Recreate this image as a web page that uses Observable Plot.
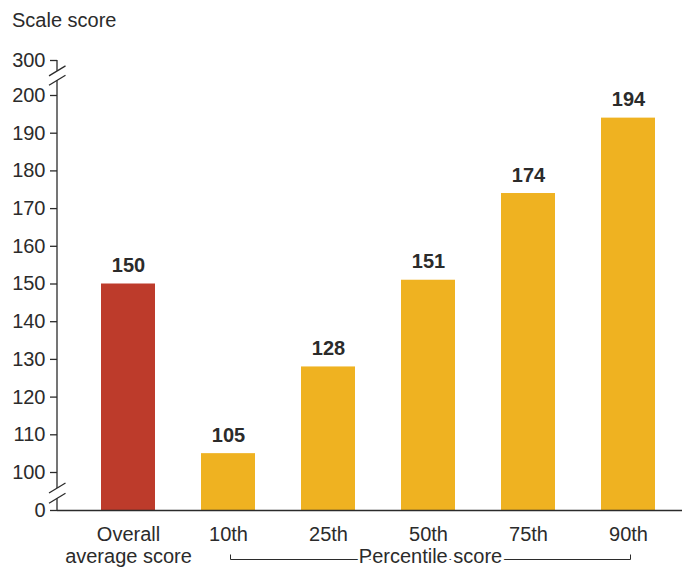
<!DOCTYPE html>
<html><head><meta charset="utf-8">
<script src="https://cdn.jsdelivr.net/npm/d3@7"></script>
<script src="https://cdn.jsdelivr.net/npm/@observablehq/plot@0.6"></script>
<style>
body{margin:0;background:#fff;}
#title{height:40px;box-sizing:border-box;padding:6px 0 0 12px;font:20px/28px "Liberation Sans",Arial,sans-serif;color:#2b2b2b;}
</style></head><body>
<div id="title">Scale score</div>
<div id="chart"></div>
<script>
const categories = ["Overall\naverage score", "10th", "25th", "50th", "75th", "90th"];
const values = [150, 105, 128, 151, 174, 194];
const groups = ["Overall", "Percentile", "Percentile", "Percentile", "Percentile", "Percentile"];
const yTicks = [0, 100, 110, 120, 130, 140, 150, 160, 170, 180, 190, 200, 300];
// broken axis: value stops and the share of the axis length given to each segment
const axisStops = [0, 100, 200, 300];
const axisSpans = [0, 38, 415, 450];
const yBreaks = [[0, 100], [300, 200]]; // [outer end, inner end]
const bracketLabel = "Percentile score";
const bracketFrom = "10th", bracketTo = "90th";

const data = categories.map((c, i) => ({category: c, value: values[i], group: groups[i]}));

const FONT = '"Liberation Sans",Arial,sans-serif';
const INK = "#2b2b2b";
const RED = "#bd3b2b", ORANGE = "#efb221";

const broken = d3.scaleLinear().domain(axisStops).range(axisSpans);

function decorations(index, scales, vals, dim) {
  const x = scales.x, y = scales.y;
  const Y = v => y(broken(v));
  const bw = x.bandwidth ? x.bandwidth() : 0;
  const ax = dim.marginLeft;
  const g = d3.create("svg:g");
  const lines = g.append("g").attr("stroke", INK).attr("stroke-width", 1.3).attr("fill", "none");
  const br = yBreaks.map(([o, i]) => {
    const yo = Y(o), yi = Y(i);
    return [yo + (yi - yo) * 0.31, yo + (yi - yo) * 0.58];
  });
  const ends = [Y(yBreaks[0][0]), br[0][0], br[0][1], br[1][1], br[1][0], Y(yBreaks[1][0])];
  for (let k = 0; k < ends.length; k += 2) {
    lines.append("line").attr("x1", ax).attr("x2", ax).attr("y1", ends[k]).attr("y2", ends[k + 1]);
  }
  for (const pair of br) for (const cy of pair) {
    lines.append("line").attr("x1", ax - 8).attr("y1", cy + 5).attr("x2", ax + 8.5).attr("y2", cy - 5);
  }
  const x1 = Math.round(x(bracketFrom) + bw / 2 + 2) + 0.5, x2 = Math.round(x(bracketTo) + bw / 2 + 2) + 0.5;
  const yb = Math.round(dim.height - dim.marginBottom + 49) + 0.5;
  lines.append("path").attr("d", `M${x1},${yb - 5}V${yb}H${x2}V${yb - 5}`).attr("stroke-width", 1);
  g.append("text").attr("x", (x1 + x2) / 2).attr("y", yb + 3).attr("text-anchor", "middle")
    .attr("font-family", FONT).attr("font-size", 20).attr("fill", INK)
    .attr("stroke", "white").attr("stroke-width", 5).attr("paint-order", "stroke")
    .text(bracketLabel);
  return g.node();
}

const chart = Plot.plot({
  width: 682,
  height: 529,
  marginLeft: 57,
  marginRight: 0,
  marginTop: 20,
  marginBottom: 59,
  style: {fontFamily: FONT, fontSize: "20px", color: INK, background: "white"},
  x: {domain: categories, range: [76.75, 679.75], paddingInner: 0.46, paddingOuter: 0.23, label: null},
  y: {transform: broken, domain: [0, 450], range: [470, 20], label: null},
  color: {domain: ["Overall", "Percentile"], range: [RED, ORANGE]},
  marks: [
    Plot.barY(data, {x: "category", y: "value", fill: "group"}),
    Plot.ruleY([0], {stroke: INK, strokeWidth: 1.3}),
    Plot.axisY(yTicks, {tickSize: 7, tickPadding: 5, fontSize: 20, label: null, stroke: INK, strokeWidth: 1.3, fill: INK}),
    Plot.axisX({tickSize: 0, tickPadding: 15, fontSize: 20, label: null, lineHeight: 1.1, fill: INK}),
    Plot.text(data, {x: "category", y: "value", text: d => String(d.value), dy: -12, lineAnchor: "bottom",
      fontWeight: "bold", fontSize: 20, fill: INK}),
    decorations
  ]
});
document.getElementById("chart").appendChild(chart);
</script>
</body></html>
